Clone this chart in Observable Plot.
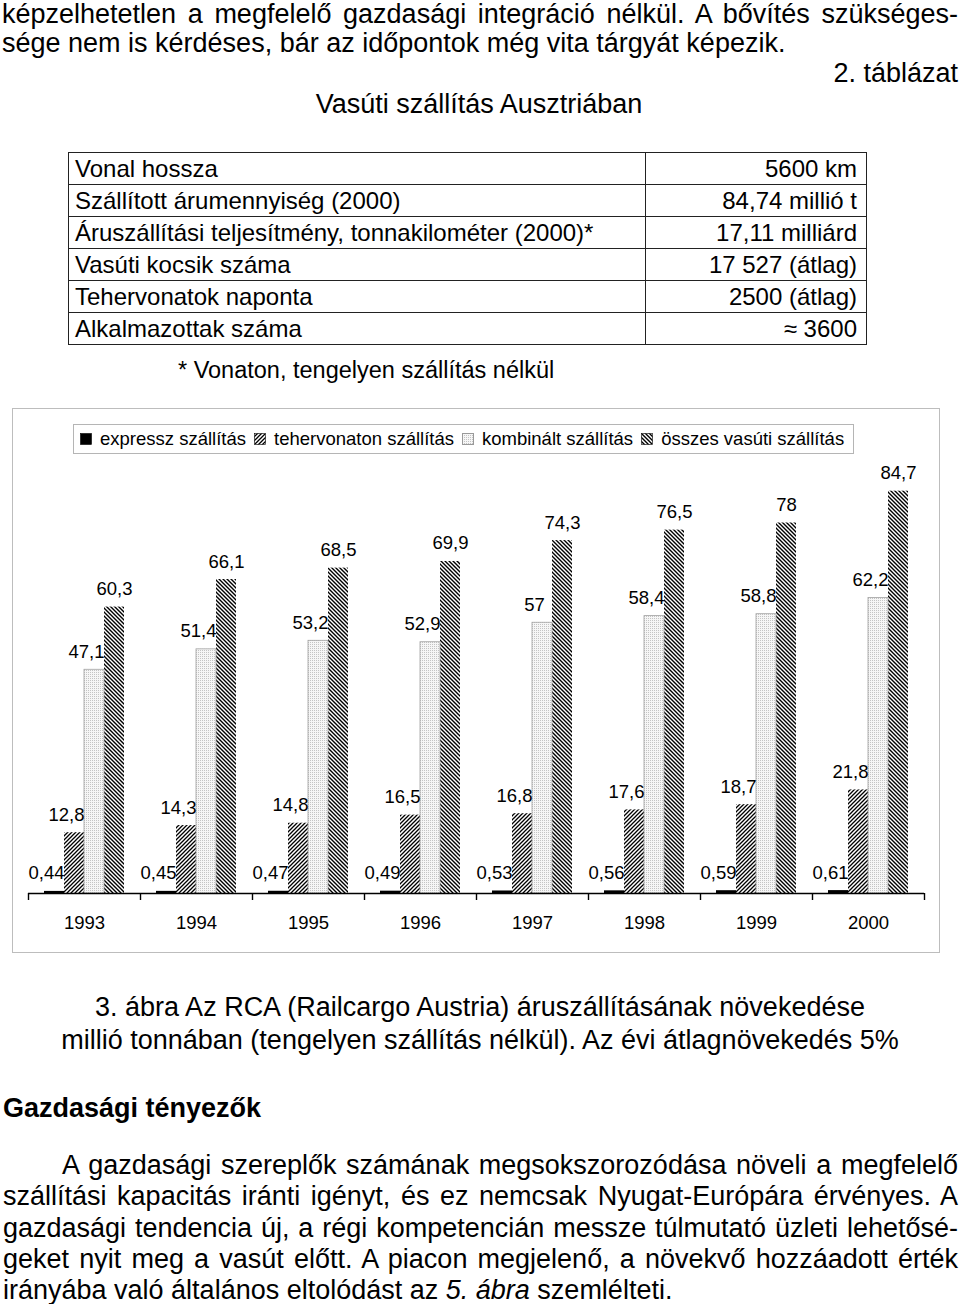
<!DOCTYPE html>
<html>
<head>
<meta charset="utf-8">
<script src="https://cdn.jsdelivr.net/npm/d3@7"></script>
<script src="https://cdn.jsdelivr.net/npm/@observablehq/plot@0.6"></script>
<style>
  html, body { margin: 0; padding: 0; background: #fff; }
  body { position: relative; width: 960px; height: 1304px; overflow: hidden; font-family: "Liberation Sans", Arial, sans-serif; color: #000; }
  .ln { position: absolute; font-size: 27px; line-height: 31px; white-space: nowrap; }
  .just { text-align: justify; text-align-last: justify; white-space: normal; }
  #tbl { position: absolute; left: 68px; top: 152px; width: 798px; border-collapse: collapse; font-size: 24px; table-layout: fixed; }
  #tbl td { border: 1px solid #222; height: 31px; padding: 0; line-height: 31px; white-space: nowrap; overflow: visible; }
  #tbl td.l { padding-left: 6px; }
  #tbl td.r { text-align: right; padding-right: 9px; }
  #frame { position: absolute; left: 12px; top: 408px; width: 928px; height: 545px; box-sizing: border-box; border: 1px solid #bdbdbd; }
  #chart { position: absolute; left: 12px; top: 408px; }
  #legend { position: absolute; left: 73px; top: 424px; width: 781px; height: 30px; box-sizing: border-box; border: 1px solid #b5b5b5; display: flex; align-items: center; padding-left: 6px; font-size: 18.5px; z-index: 2; background: #fff; }
  #legend .it { display: flex; align-items: center; margin-right: 8px; white-space: nowrap; }
  #legend svg { margin-right: 8px; display: block; }
</style>
</head>
<body>
<svg width="0" height="0" style="position:absolute">
  <defs>
    <pattern id="pat-teher" patternUnits="userSpaceOnUse" width="4" height="4">
      <rect width="4" height="4" fill="#fff"/>
      <path d="M-1,1 l2,-2 M0,4 l4,-4 M3,5 l2,-2" stroke="#000" stroke-width="1.3"/>
    </pattern>
    <pattern id="pat-ossz" patternUnits="userSpaceOnUse" width="4" height="4">
      <rect width="4" height="4" fill="#fff"/>
      <path d="M-1,3 l2,2 M0,0 l4,4 M3,-1 l2,2" stroke="#000" stroke-width="1.4"/>
    </pattern>
    <pattern id="pat-komb" patternUnits="userSpaceOnUse" width="2" height="2">
      <rect width="2" height="2" fill="#f6f6f6"/>
      <rect width="1" height="1" fill="#c4c4c4"/>
    </pattern>
  </defs>
</svg>

<div class="ln just" style="left:2px; top:0px; width:956px; line-height:29px;">képzelhetetlen a megfelelő gazdasági integráció nélkül. A bővítés szükséges-</div>
<div class="ln" style="left:2px; top:29px; line-height:29px;">sége nem is kérdéses, bár az időpontok még vita tárgyát képezik.</div>
<div class="ln" style="right:2px; top:58px;">2. táblázat</div>
<div class="ln" style="left:0; width:958px; text-align:center; top:89px;">Vasúti szállítás Ausztriában</div>

<table id="tbl"><colgroup><col style="width:577px"><col style="width:221px"></colgroup></table>
<div class="ln" style="left:178px; top:355px; font-size:23.5px;">* Vonaton, tengelyen szállítás nélkül</div>

<div id="frame"></div>
<div id="legend"></div>
<div id="chart"></div>

<div class="ln" style="left:0; width:960px; text-align:center; top:992px;">3. ábra Az RCA (Railcargo Austria) áruszállításának növekedése</div>
<div class="ln" style="left:0; width:960px; text-align:center; top:1025px;">millió tonnában (tengelyen szállítás nélkül). Az évi átlagnövekedés 5%</div>
<div class="ln" style="left:3px; top:1093px; font-weight:bold;">Gazdasági tényezők</div>
<div class="ln just" style="left:62px; width:896px; top:1150px;">A gazdasági szereplők számának megsokszorozódása növeli a megfelelő</div>
<div class="ln just" style="left:3px; width:955px; top:1181px;">szállítási kapacitás iránti igényt, és ez nemcsak Nyugat-Európára érvényes. A</div>
<div class="ln just" style="left:3px; width:955px; top:1213px;">gazdasági tendencia új, a régi kompetencián messze túlmutató üzleti lehetősé-</div>
<div class="ln just" style="left:3px; width:955px; top:1244px;">geket nyit meg a vasút előtt. A piacon megjelenő, a növekvő hozzáadott érték</div>
<div class="ln" style="left:3px; top:1275px;">irányába való általános eltolódást az <i>5. ábra</i> szemlélteti.</div>

<script>
// ---- table data ----
const tableLabels = ["Vonal hossza", "Szállított árumennyiség (2000)", "Áruszállítási teljesítmény, tonnakilométer (2000)*", "Vasúti kocsik száma", "Tehervonatok naponta", "Alkalmazottak száma"];
const tableValues = ["5600 km", "84,74 millió t", "17,11 milliárd", "17 527 (átlag)", "2500 (átlag)", "≈ 3600"];

// ---- chart data ----
const years = ["1993", "1994", "1995", "1996", "1997", "1998", "1999", "2000"];
const seriesNames = ["expressz szállítás", "tehervonaton szállítás", "kombinált szállítás", "összes vasúti szállítás"];
const expressz = [0.44, 0.45, 0.47, 0.49, 0.53, 0.56, 0.59, 0.61];
const tehervonaton = [12.8, 14.3, 14.8, 16.5, 16.8, 17.6, 18.7, 21.8];
const kombinalt = [47.1, 51.4, 53.2, 52.9, 57, 58.4, 58.8, 62.2];
const osszes = [60.3, 66.1, 68.5, 69.9, 74.3, 76.5, 78, 84.7];

const seriesFills = ["#000", "url(#pat-teher)", "url(#pat-komb)", "url(#pat-ossz)"];

// table
const tbl = document.getElementById("tbl");
tableLabels.forEach((lab, i) => {
  const tr = document.createElement("tr");
  const a = document.createElement("td"); a.className = "l"; a.textContent = lab;
  const b = document.createElement("td"); b.className = "r"; b.textContent = tableValues[i];
  tr.append(a, b); tbl.append(tr);
});

// legend
const legend = document.getElementById("legend");
seriesNames.forEach((s, i) => {
  const it = document.createElement("div"); it.className = "it";
  it.innerHTML = `<svg width="12" height="12"><rect x="0.5" y="0.5" width="11" height="11" fill="${seriesFills[i]}" stroke="${i === 2 ? '#999' : '#000'}" stroke-width="${i === 2 ? 1 : 0.6}"/></svg><span>${s}</span>`;
  legend.append(it);
});

// long data
const valuesBySeries = [expressz, tehervonaton, kombinalt, osszes];
const data = [];
years.forEach((y, yi) => seriesNames.forEach((s, si) => data.push({year: y, series: s, value: valuesBySeries[si][yi], fill: seriesFills[si]})));
const fmt = d => String(d.value).replace(".", ",");
const last = seriesNames[3];

const W = 928, H = 545, mL = 16, mR = 16;
const half = (W - mL - mR) / years.length / 2;

const chart = Plot.plot({
  width: W, height: H,
  marginLeft: mL, marginRight: mR, marginTop: 57.5, marginBottom: 60,
  style: {background: "transparent", fontFamily: "'Liberation Sans', Arial, sans-serif", fontSize: "18.5px", color: "#000", overflow: "visible"},
  fx: {domain: years, padding: 0, label: null},
  x: {domain: seriesNames, paddingInner: 0, paddingOuter: 0.73, axis: null},
  y: {domain: [0, 90], axis: null},
  color: {type: "identity"},
  marks: [
    Plot.barY(data, {fx: "year", x: "series", y: "value", fill: "fill", insetLeft: 0, insetRight: 0}),
    Plot.barY(data.filter(d => d.series === seriesNames[2]), {fx: "year", x: "series", y: "value", fill: "none", stroke: "#a0a0a0", strokeWidth: 0.8}),
    Plot.text(data.filter(d => d.series !== last), {fx: "year", x: "series", y: "value", text: fmt, lineAnchor: "bottom", dy: -12, dx: -8, fill: "#000"}),
    Plot.text(data.filter(d => d.series === last), {fx: "year", x: "series", y: "value", text: fmt, lineAnchor: "bottom", dy: -12, fill: "#000"}),
    Plot.ruleY([0], {stroke: "#000", strokeWidth: 1.6}),
    Plot.axisFx({anchor: "bottom", tickSize: 7, tickFormat: () => "", dx: -half, label: null, stroke: "#000", strokeWidth: 1.4}),
    Plot.axisFx({anchor: "bottom", ticks: [years[years.length - 1]], tickSize: 7, tickFormat: () => "", dx: half, label: null, stroke: "#000", strokeWidth: 1.4}),
    Plot.axisFx({anchor: "bottom", tickSize: 0, tickPadding: 22, label: null, fontSize: 18.5})
  ]
});
document.getElementById("chart").append(chart);
</script>
</body>
</html>
